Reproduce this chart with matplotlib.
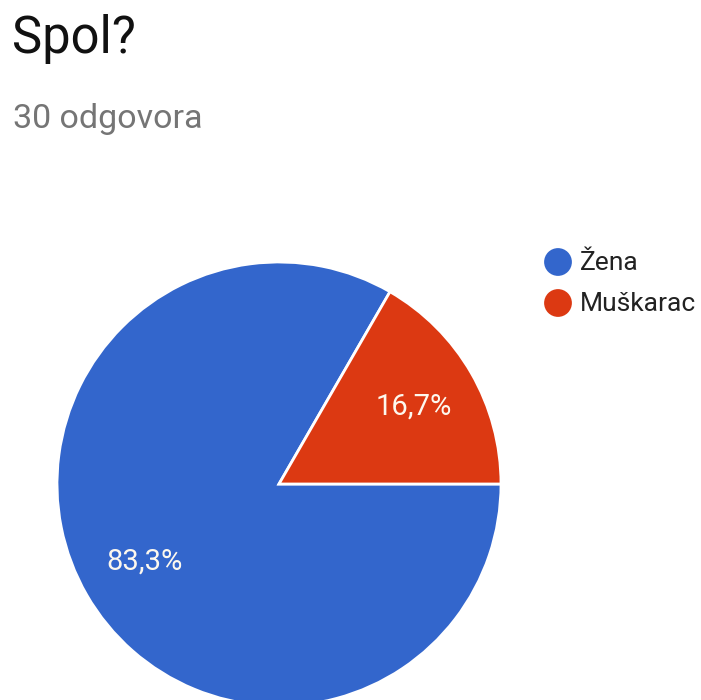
import matplotlib.pyplot as plt

plt.rcParams['font.family'] = ['Roboto', 'DejaVu Sans']

title = 'Spol?'
subtitle = '30 odgovora'
labels = ['Žena', 'Muškarac']
counts = [25, 5]
colors = ['#3366CC', '#DC3912']

W, H = 701, 700
fig = plt.figure(figsize=(W / 100, H / 100), dpi=100)

# pie: center (279, 484) px, radius 222 px
cx, cy, r = 279, 484, 222
ax = fig.add_axes([(cx - r) / W, (H - cy - r) / H, 2 * r / W, 2 * r / H])
wedges, _, autotexts = ax.pie(
    counts, colors=colors, startangle=60, counterclock=True, radius=1,
    autopct=lambda p: f'{p:.1f}%'.replace('.', ','), pctdistance=0.7,
    wedgeprops=dict(edgecolor='white', linewidth=2),
    textprops=dict(color='#fdf8ee', fontsize=21))
ax.set_xlim(-1, 1)
ax.set_ylim(-1, 1)
ax.set_aspect('equal')
ax.axis('off')

# overlay in pixel coordinates for header and legend
ov = fig.add_axes([0, 0, 1, 1], zorder=-1)
ov.set_xlim(0, W)
ov.set_ylim(H, 0)
ov.axis('off')

ov.text(12, 53, title, fontsize=36.5, color='#111111', va='baseline', ha='left')
ov.text(13, 128, subtitle, fontsize=24.5, color='#757575', va='baseline', ha='left')

for i, (lab, col) in enumerate(zip(labels, colors)):
    y = 262 + i * 41
    ov.scatter([558], [y], s=400, color=col, edgecolors='none')
    ov.text(580, y + 1, lab, fontsize=19, color='#222222', va='center', ha='left')

fig.savefig('out.png', dpi=100)
